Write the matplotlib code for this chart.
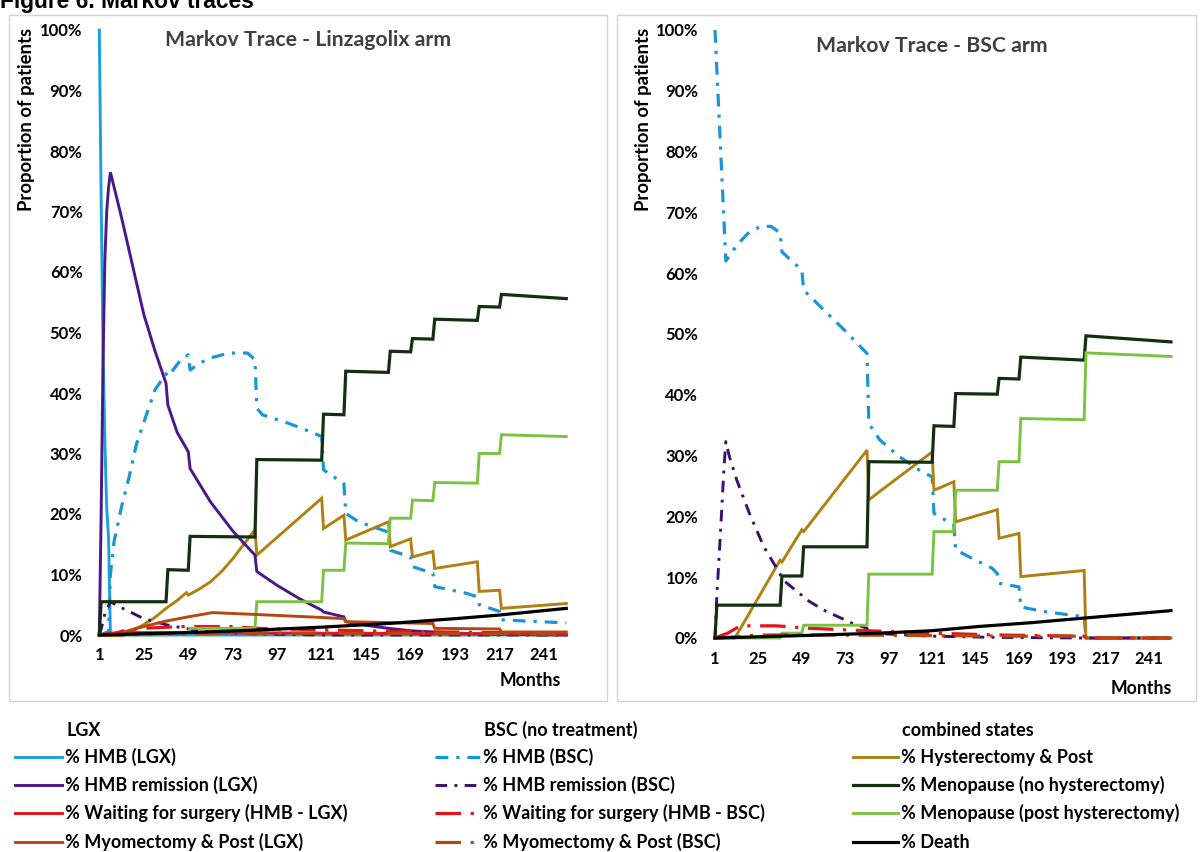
import matplotlib
matplotlib.use("Agg")
import matplotlib.pyplot as plt
from matplotlib.lines import Line2D
from matplotlib.patches import Rectangle
from matplotlib.ticker import FuncFormatter

plt.rcParams['font.family'] = ['Lato', 'DejaVu Sans']

# ---- data: (month, % of patients) breakpoints ----
# Linzagolix arm
lgx_hmb_lgx_m = [1, 2, 3, 4, 5, 6, 7, 253]
lgx_hmb_lgx_v = [100, 72, 48, 32, 21, 16, 0, 0]
lgx_hmb_bsc_m = [1, 6, 7, 9, 13, 17, 21, 26, 31, 37, 38, 45, 49, 50, 55, 61, 71, 81, 85, 86, 89, 103,
                 115, 121, 122, 133, 134, 141, 157, 158, 169, 170, 181, 182, 199, 205, 206, 217, 218, 253]
lgx_hmb_bsc_v = [0, 0.5, 10, 15.5, 21.2, 26, 31.5, 36, 40.5, 43.2, 42.7, 45.5, 46.3, 43.8, 44.9, 45.8,
                 46.6, 46.6, 45.5, 37.5, 36.4, 35, 33.6, 32.8, 27.3, 25, 20.1, 18.7, 17, 14, 12.9, 11.3,
                 10.2, 8, 6.9, 6.3, 5, 3.9, 2.5, 2.0]
lgx_hyst_m = [1, 13, 19, 25, 31, 37, 43, 48, 49, 55, 61, 67, 73, 79, 85, 86, 121, 122, 133, 134, 157,
              158, 169, 170, 181, 182, 205, 206, 217, 218, 253]
lgx_hyst_v = [0, 0, 0.8, 1.7, 2.9, 4.4, 5.7, 7.0, 6.6, 7.6, 8.8, 10.5, 12.6, 15, 17.4, 13.2, 22.6, 17.6,
              19.8, 15.7, 18.7, 14.6, 15.9, 12.9, 13.8, 11.0, 12.1, 7.2, 7.4, 4.4, 5.2]
lgx_rem_lgx_m = [1, 2, 3, 4, 5, 6, 7, 13, 19, 25, 31, 37, 38, 43, 49, 50, 61, 73, 85, 86, 97, 109, 121,
                 122, 133, 134, 145, 157, 169, 181, 193, 205, 217, 253]
lgx_rem_lgx_v = [0, 20, 45, 62, 70, 74, 76.5, 69, 61, 53, 47, 41.6, 38, 33.5, 30.3, 27.5, 22, 17.2, 13.2,
                 10.5, 8.2, 6.0, 4.1, 3.8, 3.0, 2.2, 1.6, 1.1, 0.7, 0.5, 0.3, 0.2, 0.1, 0]
lgx_rem_bsc_m = [1, 2, 4, 7, 13, 25, 37, 49, 61, 73, 85, 121, 253]
lgx_rem_bsc_v = [0, 1, 3.5, 5.5, 4.5, 2.7, 1.7, 1.0, 0.5, 0.3, 0.2, 0, 0]
lgx_meno_no_m = [1, 2, 37, 38, 49, 50, 85, 86, 121, 122, 133, 134, 157, 158, 169, 170, 181, 182, 205,
                 206, 217, 218, 253]
lgx_meno_no_v = [0, 5.5, 5.5, 10.8, 10.7, 16.3, 16.2, 29.0, 28.9, 36.5, 36.4, 43.6, 43.4, 46.9, 46.8,
                 49.0, 48.9, 52.2, 52.0, 54.3, 54.2, 56.3, 55.6]
lgx_wait_lgx_m = [1, 7, 13, 61, 121, 205, 253]
lgx_wait_lgx_v = [0, 0.3, 0.4, 0.4, 0.3, 0.2, 0.1]
lgx_wait_bsc_m = [1, 7, 14, 23, 46, 73, 86, 129, 158, 217, 253]
lgx_wait_bsc_v = [0, 0, 0.7, 1.1, 1.4, 1.4, 1.1, 0.8, 0.6, 0.4, 0.3]
lgx_meno_post_m = [1, 37, 38, 49, 50, 85, 86, 121, 122, 133, 134, 157, 158, 169, 170, 181, 182, 205,
                   206, 217, 218, 253]
lgx_meno_post_v = [0, 0, 0.3, 0.4, 1.1, 1.1, 5.5, 5.5, 10.7, 10.7, 15.2, 15.1, 19.3, 19.3, 22.3, 22.2,
                   25.2, 25.1, 30.0, 30.0, 33.1, 32.8]
lgx_myo_lgx_m = [1, 13, 14, 25, 37, 49, 62, 85, 121, 133, 134, 181, 182, 217, 218, 253]
lgx_myo_lgx_v = [0, 0, 0.5, 1.4, 2.3, 3.0, 3.7, 3.4, 2.9, 2.7, 2.2, 1.9, 1.1, 1.0, 0.5, 0.5]
lgx_myo_bsc_m = [1, 14, 30, 85, 121, 205, 253]
lgx_myo_bsc_v = [0, 0, 0.2, 0.3, 0.3, 0.2, 0.2]
lgx_death_m = [1, 49, 85, 121, 157, 193, 217, 253]
lgx_death_v = [0, 0.4, 0.8, 1.3, 1.9, 2.7, 3.3, 4.4]

# BSC arm
bsc_hmb_m = [1, 7, 13, 19, 26, 32, 37, 38, 49, 50, 61, 73, 85, 86, 92, 103, 114, 121, 122, 130, 133,
             134, 145, 154, 157, 158, 169, 170, 184, 205, 206, 253]
bsc_hmb_v = [100, 62, 64.6, 66.5, 67.7, 67.7, 66.6, 63.5, 60.5, 57.2, 54, 50.5, 46.8, 35.3, 32.6, 29.8,
             27.6, 26.5, 20.5, 19.1, 18.6, 14.5, 12.8, 11.5, 10.6, 9.0, 8.4, 5.1, 4.3, 3.5, 0, 0]
bsc_hyst_m = [1, 12, 37, 38, 49, 50, 85, 86, 92, 121, 122, 133, 134, 157, 158, 169, 170, 205, 206, 253]
bsc_hyst_v = [0, 0, 12.8, 12.5, 17.8, 17.5, 30.9, 22.7, 24.1, 30.6, 24.3, 25.7, 19.1, 21.1, 16.4, 17.2,
              10.1, 11.1, 0, 0]
bsc_rem_m = [1, 2, 4, 6, 7, 9, 13, 20, 28, 37, 38, 49, 50, 61, 77, 85, 86, 121, 157, 205, 253]
bsc_rem_v = [0, 6.8, 17.2, 28.2, 32.3, 29.8, 26, 20.5, 15, 10.5, 9.7, 7.0, 6.6, 4.6, 2.4, 1.6, 0.8, 0.3,
             0.1, 0, 0]
bsc_meno_no_m = [1, 2, 37, 38, 49, 50, 85, 86, 121, 122, 133, 134, 157, 158, 169, 170, 205, 206, 253]
bsc_meno_no_v = [0, 5.4, 5.4, 10.2, 10.2, 15.0, 15.0, 29.0, 28.9, 34.9, 34.8, 40.2, 40.1, 42.7, 42.6,
                 46.2, 45.7, 49.7, 48.7]
bsc_wait_m = [1, 8, 15, 35, 53, 76, 85, 121, 157, 205, 206, 253]
bsc_wait_v = [0, 0.8, 2.0, 2.0, 1.6, 1.3, 1.2, 0.8, 0.5, 0.3, 0, 0]
bsc_meno_post_m = [1, 37, 38, 49, 50, 85, 86, 121, 122, 133, 134, 157, 158, 169, 170, 205, 206, 253]
bsc_meno_post_v = [0, 0, 0.8, 0.8, 2.1, 2.1, 10.5, 10.5, 17.5, 17.5, 24.3, 24.3, 29.0, 29.0, 36.1, 35.9,
                   46.9, 46.3]
bsc_myo_m = [1, 14, 24, 61, 121, 170, 205, 206, 253]
bsc_myo_v = [0, 0.2, 0.5, 0.5, 0.4, 0.3, 0.3, 0, 0]
bsc_death_m = [1, 49, 92, 121, 147, 175, 202, 253]
bsc_death_v = [0, 0.4, 0.8, 1.2, 1.9, 2.5, 3.2, 4.5]

month_ticks = list(range(1, 254, 24))

# line styles per state (legend + both panels)
DD = (4, 2.5, 1, 2.5)       # dash-dot
LDD = (8, 3, 1, 3)          # long dash-dot
STYLE = {
    "hmb_lgx":   dict(color="#1aa0dc", lw=2.1),
    "hmb_bsc":   dict(color="#1a96d4", lw=2.3, dashes=DD),
    "hyst":      dict(color="#b08010", lw=2.1),
    "rem_lgx":   dict(color="#4a1888", lw=2.1),
    "rem_bsc":   dict(color="#3c0f70", lw=2.1, dashes=DD),
    "meno_no":   dict(color="#12300f", lw=2.3),
    "wait_lgx":  dict(color="#e3141b", lw=2.1),
    "wait_bsc":  dict(color="#e3141b", lw=2.3, dashes=LDD),
    "meno_post": dict(color="#7cc242", lw=2.1),
    "myo_lgx":   dict(color="#b8460e", lw=2.1),
    "myo_bsc":   dict(color="#b8460e", lw=2.3, dashes=LDD),
    "death":     dict(color="#000000", lw=2.3),
}

LGX_SERIES = [
    ("hmb_lgx", lgx_hmb_lgx_m, lgx_hmb_lgx_v), ("hmb_bsc", lgx_hmb_bsc_m, lgx_hmb_bsc_v),
    ("hyst", lgx_hyst_m, lgx_hyst_v), ("rem_lgx", lgx_rem_lgx_m, lgx_rem_lgx_v),
    ("rem_bsc", lgx_rem_bsc_m, lgx_rem_bsc_v), ("meno_no", lgx_meno_no_m, lgx_meno_no_v),
    ("wait_lgx", lgx_wait_lgx_m, lgx_wait_lgx_v), ("wait_bsc", lgx_wait_bsc_m, lgx_wait_bsc_v),
    ("meno_post", lgx_meno_post_m, lgx_meno_post_v), ("myo_lgx", lgx_myo_lgx_m, lgx_myo_lgx_v),
    ("myo_bsc", lgx_myo_bsc_m, lgx_myo_bsc_v), ("death", lgx_death_m, lgx_death_v),
]
BSC_SERIES = [
    ("hmb_bsc", bsc_hmb_m, bsc_hmb_v), ("hyst", bsc_hyst_m, bsc_hyst_v),
    ("rem_bsc", bsc_rem_m, bsc_rem_v), ("meno_no", bsc_meno_no_m, bsc_meno_no_v),
    ("wait_bsc", bsc_wait_m, bsc_wait_v), ("meno_post", bsc_meno_post_m, bsc_meno_post_v),
    ("myo_bsc", bsc_myo_m, bsc_myo_v), ("death", bsc_death_m, bsc_death_v),
]

LEGEND_COLS = [
    ("LGX", [("hmb_lgx", "% HMB (LGX)"), ("rem_lgx", "% HMB remission (LGX)"),
             ("wait_lgx", "% Waiting for surgery (HMB - LGX)"), ("myo_lgx", "% Myomectomy & Post (LGX)")]),
    ("BSC (no treatment)", [("hmb_bsc", "% HMB (BSC)"), ("rem_bsc", "% HMB remission (BSC)"),
                            ("wait_bsc", "% Waiting for surgery (HMB - BSC)"),
                            ("myo_bsc", "% Myomectomy & Post (BSC)")]),
    ("combined states", [("hyst", "% Hysterectomy & Post"), ("meno_no", "% Menopause (no hysterectomy)"),
                         ("meno_post", "% Menopause (post hysterectomy)"), ("death", "% Death")]),
]

W, H = 1200, 852
fig = plt.figure(figsize=(12, 8.52), dpi=100)


def fx(px):
    return px / W


def fy(py):
    return 1 - py / H


# panel frames
for x0, x1 in [(9, 607), (617, 1196)]:
    fig.add_artist(Rectangle((fx(x0), fy(701)), (x1 - x0) / W, (701 - 15) / H, transform=fig.transFigure,
                             fill=False, ec="#d4d4d4", lw=1.0))


def trace_panel(rect, series, title, title_xy, ylab_x, months_xy):
    ax = fig.add_axes(rect)
    for key, m, v in series:
        st = dict(STYLE[key])
        dashes = st.pop("dashes", None)
        ln, = ax.plot(m, v, solid_joinstyle="miter", clip_on=False, **st)
        if dashes:
            ln.set_dashes(dashes)
            ln.set_dash_capstyle("butt")
    ax.set_xlim(1, 253)
    ax.set_ylim(0, 100)
    ax.set_xticks(month_ticks)
    ax.set_yticks(range(0, 101, 10))
    ax.yaxis.set_major_formatter(FuncFormatter(lambda y, _: f"{y:.0f}%"))
    ax.tick_params(length=0, labelsize=12)
    ax.tick_params(axis="y", pad=12)
    ax.tick_params(axis="x", pad=9)
    for lb in ax.get_xticklabels() + ax.get_yticklabels():
        lb.set_fontweight("bold")
    for s in ax.spines.values():
        s.set_visible(False)
    fig.text(fx(title_xy[0]), fy(title_xy[1]), title, ha="center", va="center", fontsize=15.3,
             fontweight="bold", color="#404040")
    fig.text(fx(ylab_x), fy(28), "Proportion of patients", rotation=90, ha="center", va="top",
             fontsize=13.3, fontweight="bold")
    fig.text(fx(months_xy[0]), fy(months_xy[1]), "Months", ha="right", va="center", fontsize=12.7,
             fontweight="bold")
    return ax


trace_panel([fx(99.3), fy(635), 467 / W, 605 / H], LGX_SERIES, "Markov Trace - Linzagolix arm",
            (308, 40), 27, (561, 680))
trace_panel([fx(715), fy(638), 456 / W, 608 / H], BSC_SERIES, "Markov Trace - BSC arm",
            (932, 46), 643, (1172, 688))

# figure caption, clipped at the top as in the source
fig.text(0.0, fy(8), "Figure 6. Markov traces", ha="left", va="baseline", fontsize=16.4,
         fontweight="bold", family=["Liberation Sans Narrow", "Liberation Sans", "DejaVu Sans"])

# legend, three columns with headers
col_x = [(15, 62), (435, 480), (853, 898)]
row_y = [757, 785, 813, 842]
for (lx0, lx1), (header, entries) in zip(col_x, LEGEND_COLS):
    fig.text(fx(lx1 + 4), fy(730), header, ha="left", va="center", fontsize=13, fontweight="bold")
    for yy, (key, label) in zip(row_y, entries):
        st = dict(STYLE[key])
        dashes = st.pop("dashes", None)
        ln = Line2D([fx(lx0), fx(lx1)], [fy(yy), fy(yy)], transform=fig.transFigure, **st)
        if dashes:
            ln.set_dashes(dashes)
            ln.set_dash_capstyle("butt")
        fig.add_artist(ln)
        fig.text(fx(lx1 + 3), fy(yy), label, ha="left", va="center", fontsize=13, fontweight="bold")

fig.savefig("out.png", dpi=100)
